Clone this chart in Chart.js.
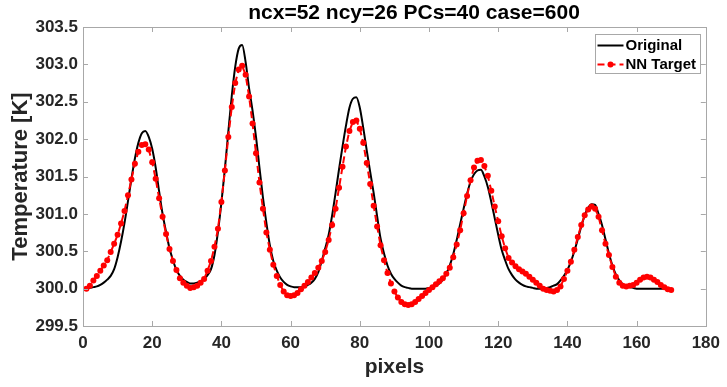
<!DOCTYPE html>
<html><head><meta charset="utf-8">
<script src="https://cdn.jsdelivr.net/npm/chart.js@4.4.1/dist/chart.umd.min.js"></script>
<style>html,body{margin:0;padding:0;background:#fff;} #wrap{width:727px;height:387px;position:relative;}</style>
</head><body><div id="wrap"><canvas id="c" width="727" height="387"></canvas></div>
<script>
// ---- data (pixel index 1..170) ----
const pixels = Array.from({length: 170}, (_, i) => i + 1);
const original = [
 300.00,300.01,300.02,300.03,300.05,300.08,300.12,300.17,300.26,300.42,
 300.63,300.88,301.17,301.47,301.74,301.95,302.08,302.11,302.03,301.87,
 301.62,301.30,301.00,300.76,300.54,300.38,300.25,300.17,300.12,300.09,
 300.07,300.07,300.08,300.10,300.13,300.18,300.26,300.45,300.76,301.15,
 301.60,302.10,302.58,302.97,303.21,303.26,303.03,302.68,302.38,302.03,
 301.62,301.22,300.88,300.58,300.37,300.24,300.15,300.09,300.05,300.03,
 300.02,300.02,300.02,300.03,300.05,300.08,300.13,300.22,300.37,300.54,
 300.72,300.98,301.28,301.60,301.90,302.18,302.42,302.54,302.56,302.42,
 302.15,301.85,301.56,301.28,300.97,300.67,300.47,300.31,300.20,300.13,
 300.08,300.04,300.02,300.01,300.00,300.00,300.00,300.00,300.00,300.01,
 300.02,300.04,300.07,300.12,300.20,300.31,300.46,300.65,300.86,301.07,
 301.27,301.43,301.53,301.58,301.59,301.50,301.36,301.16,300.94,300.72,
 300.52,300.38,300.26,300.18,300.12,300.08,300.05,300.03,300.02,300.01,
 300.00,300.00,300.00,300.01,300.02,300.04,300.06,300.11,300.17,300.25,
 300.36,300.50,300.66,300.83,300.98,301.08,301.13,301.12,301.00,300.85,
 300.66,300.47,300.31,300.19,300.11,300.06,300.03,300.02,300.01,300.00,
 300.00,300.00,300.00,300.00,300.00,300.00,300.00,300.00,300.00,300.00
];
const nnTarget = [
 300.00,300.04,300.11,300.17,300.24,300.31,300.38,300.49,300.60,300.72,
 300.87,301.04,301.25,301.46,301.67,301.83,301.92,301.93,301.86,301.69,
 301.47,301.21,300.96,300.73,300.53,300.37,300.25,300.14,300.08,300.04,
 300.01,300.02,300.04,300.08,300.13,300.24,300.37,300.56,300.80,301.16,
 301.58,302.03,302.43,302.75,302.93,302.98,302.86,302.57,302.21,301.81,
 301.42,301.07,300.75,300.52,300.32,300.17,300.05,299.96,299.91,299.90,
 299.91,299.94,299.99,300.04,300.09,300.15,300.21,300.28,300.37,300.49,
 300.65,300.85,301.07,301.35,301.63,301.90,302.11,302.23,302.25,302.14,
 301.95,301.68,301.40,301.11,300.83,300.58,300.38,300.21,300.07,299.96,
 299.88,299.82,299.79,299.78,299.79,299.82,299.86,299.90,299.94,299.98,
 300.02,300.06,300.10,300.14,300.20,300.28,300.42,300.59,300.78,301.01,
 301.24,301.45,301.62,301.71,301.72,301.64,301.51,301.31,301.10,300.90,
 300.70,300.54,300.41,300.35,300.30,300.26,300.23,300.20,300.16,300.12,
 300.08,300.04,300.00,299.98,299.97,299.96,299.98,300.03,300.13,300.24,
 300.36,300.52,300.69,300.85,300.98,301.06,301.10,301.07,300.96,300.78,
 300.60,300.45,300.29,300.16,300.08,300.04,300.03,300.04,300.05,300.08,
 300.12,300.15,300.16,300.15,300.12,300.09,300.05,300.02,299.99,299.98
];
const xTicks = [0, 20, 40, 60, 80, 100, 120, 140, 160, 180];
const yTicks = [299.5, 300.0, 300.5, 301.0, 301.5, 302.0, 302.5, 303.0, 303.5];
const seriesNames = ['Original', 'NN Target'];
const titleText = 'ncx=52 ncy=26 PCs=40 case=600';
const xTitle = 'pixels';
const yTitle = 'Temperature [K]';

const FONT = "'Liberation Sans', Arial, Helvetica, sans-serif";
const AXIS_COLOR = '#a8a8a8';
const TEXT_COLOR = '#262626';

const framePlugin = {
  id: 'frame',
  afterDatasetsDraw(chart) {
    const {ctx, chartArea: a, scales: {x, y}} = chart;
    ctx.save();
    ctx.strokeStyle = AXIS_COLOR;
    ctx.lineWidth = 1;
    ctx.beginPath();
    const tl = 5;
    x.ticks.forEach(t => {
      const px = Math.round(x.getPixelForValue(t.value)) + 0.5;
      ctx.moveTo(px, a.bottom); ctx.lineTo(px, a.bottom - tl);
      ctx.moveTo(px, a.top); ctx.lineTo(px, a.top + tl);
    });
    y.ticks.forEach(t => {
      const py = Math.round(y.getPixelForValue(t.value)) + 0.5;
      ctx.moveTo(a.left, py); ctx.lineTo(a.left + tl, py);
      ctx.moveTo(a.right, py); ctx.lineTo(a.right - tl, py);
    });
    ctx.stroke();
    ctx.strokeRect(Math.round(a.left) + 0.5, Math.round(a.top) + 0.5,
                   Math.round(a.right - a.left), Math.round(a.bottom - a.top));
    ctx.restore();
  },
  afterDraw(chart) {
    const {ctx, chartArea: a} = chart;
    ctx.save();
    // title
    ctx.fillStyle = '#000';
    ctx.font = 'bold 21px ' + FONT;
    ctx.textAlign = 'center';
    ctx.textBaseline = 'middle';
    ctx.fillText(titleText, 414, 13);
    // legend
    const w = 105, h = 39;
    const x0 = Math.round(a.right - 6 - w) + 0.5, y0 = Math.round(a.top + 7) + 0.5;
    ctx.fillStyle = '#fff';
    ctx.fillRect(x0, y0, w, h);
    ctx.strokeStyle = '#a8a8a8';
    ctx.lineWidth = 1;
    ctx.strokeRect(x0, y0, w, h);
    const r1 = y0 + 11, r2 = y0 + 30;
    ctx.strokeStyle = '#000'; ctx.lineWidth = 2;
    ctx.beginPath(); ctx.moveTo(x0 + 2, r1); ctx.lineTo(x0 + 28, r1); ctx.stroke();
    ctx.strokeStyle = '#ff0000'; ctx.setLineDash([7, 4]);
    ctx.beginPath(); ctx.moveTo(x0 + 2, r2); ctx.lineTo(x0 + 28, r2); ctx.stroke();
    ctx.setLineDash([]);
    ctx.fillStyle = '#ff0000';
    ctx.beginPath(); ctx.arc(x0 + 15, r2, 3, 0, Math.PI * 2); ctx.fill();
    ctx.fillStyle = '#000';
    ctx.font = 'bold 15px ' + FONT;
    ctx.textAlign = 'left';
    ctx.fillText(seriesNames[0], x0 + 30, r1);
    ctx.fillText(seriesNames[1], x0 + 30, r2);
    ctx.restore();
  }
};

new Chart(document.getElementById('c'), {
  type: 'line',
  data: {
    datasets: [
      {
        label: seriesNames[0],
        data: pixels.map((p, i) => ({x: p, y: original[i]})),
        borderColor: '#000000',
        borderWidth: 2,
        pointRadius: 0,
        cubicInterpolationMode: 'monotone',
        fill: false,
        order: 2
      },
      {
        label: seriesNames[1],
        data: pixels.map((p, i) => ({x: p, y: nnTarget[i]})),
        borderColor: '#ff0000',
        backgroundColor: '#ff0000',
        borderWidth: 2,
        borderDash: [7, 4],
        pointRadius: 3,
        pointBorderWidth: 0,
        pointBackgroundColor: '#ff0000',
        tension: 0,
        fill: false,
        order: 1
      }
    ]
  },
  options: {
    responsive: false,
    animation: false,
    devicePixelRatio: 1,
    layout: {padding: {left: 0, right: 18, top: 27, bottom: 0}},
    plugins: {
      legend: {display: false},
      tooltip: {enabled: false},
      title: {display: false}
    },
    scales: {
      x: {
        type: 'linear',
        min: 0, max: 180,
        afterBuildTicks: s => { s.ticks = xTicks.map(v => ({value: v})); },
        afterFit: s => { s.height = 61; },
        grid: {display: false, drawTicks: false},
        border: {display: false},
        ticks: {
          color: TEXT_COLOR,
          font: {family: FONT, size: 17, weight: 'bold'},
          padding: 7,
          maxRotation: 0,
          autoSkip: false,
          callback: v => String(v)
        },
        title: {
          display: true, text: xTitle, color: TEXT_COLOR,
          font: {family: FONT, size: 21, weight: 'bold', lineHeight: 1.2},
          padding: {top: 0, bottom: 7}
        }
      },
      y: {
        type: 'linear',
        min: 299.5, max: 303.5,
        afterBuildTicks: s => { s.ticks = yTicks.map(v => ({value: v})); },
        afterFit: s => { s.width = 83; },
        grid: {display: false, drawTicks: false},
        border: {display: false},
        ticks: {
          color: TEXT_COLOR,
          font: {family: FONT, size: 17, weight: 'bold'},
          padding: 5,
          autoSkip: false,
          callback: v => Number(v).toFixed(1)
        },
        title: {
          display: true, text: yTitle, color: TEXT_COLOR,
          font: {family: FONT, size: 22, weight: 'bold', lineHeight: 1.2},
          padding: {top: 8, bottom: 0}
        }
      }
    }
  },
  plugins: [framePlugin]
});
</script>
</body></html>
